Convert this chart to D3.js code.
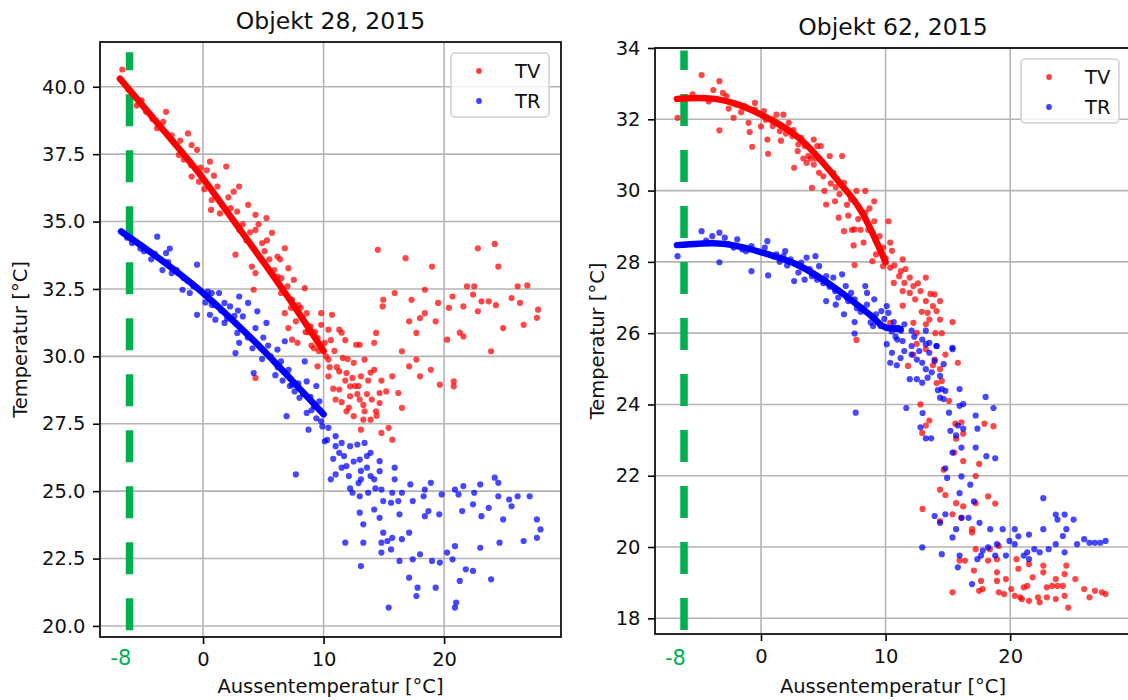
<!DOCTYPE html>
<html><head><meta charset="utf-8">
<script src="https://cdn.jsdelivr.net/npm/d3@7"></script>
<style>
html,body{margin:0;padding:0;background:#fff;}
svg{display:block;font-family:"DejaVu Sans",sans-serif;}
</style></head>
<body>
<svg id="chart" width="1128" height="700"></svg>
<script>
// ---------- DATA ----------
const titles = ["Objekt 28, 2015", "Objekt 62, 2015"];
const xLabel = "Aussentemperatur [°C]";
const yLabel = "Temperatur [°C]";
const seriesNames = ["TV", "TR"];
const xTicks = [0, 10, 20];
const yTicks28 = [20, 22.5, 25, 27.5, 30, 32.5, 35, 37.5, 40];
const yTicks62 = [18, 20, 22, 24, 26, 28, 30, 32, 34];
const guideLabel = "-8";
const guideX = [-6.1, -6.18];          // dashed green marker position (x, data units)
const guideY28 = [19.84, 41.28];
const guideY62 = [17.67, 33.93];

// Objekt 28 – TV (supply) points
const tv28 = [[-6.7,40.64],[-4.73,39.07],[-3.82,38.46],[-3.07,39.07],[-1.25,38.27],[-2.0,37.47],[-0.95,37.84],[-0.5,37.66],[0.57,37.22],[1.93,37.04],[-0.95,36.67],[-0.34,36.48],[0.72,35.8],[0.66,35.43],[2.54,36.11],[2.99,36.3],[2.83,35.37],[3.74,35.62],[4.35,35.25],[5.26,35.13],[4.35,34.69],[5.72,34.58],[6.78,34.01],[2.69,33.77],[4.05,33.33],[6.17,33.7],[7.08,33.27],[4.35,33.09],[6.17,32.96],[7.53,32.84],[8.44,32.53],[4.2,32.47],[6.47,32.35],[7.38,32.1],[6.78,31.6],[8.27,31.42],[7.08,31.05],[8.9,31.11],[9.8,31.6],[10.7,31.54],[11.3,30.99],[10.4,30.99],[9.8,31.17],[7.38,30.62],[9.5,30.68],[11.5,30.88],[13.0,30.43],[14.36,30.87],[14.5,33.95],[16.8,33.64],[19.0,33.33],[22.8,34.01],[24.2,34.17],[24.5,33.33],[15.9,32.35],[14.95,32.1],[18.4,32.47],[21.9,32.6],[22.5,32.6],[26.1,32.6],[26.9,32.63],[27.8,31.73],[27.7,31.43],[17.3,32.1],[19.5,31.98],[14.9,31.85],[18.4,31.6],[19.3,31.3],[20.4,31.8],[21.6,31.85],[22.8,31.67],[23.7,32.04],[24.3,31.9],[25.6,32.16],[26.3,31.98],[24.9,31.05],[26.6,31.17],[23.1,32.04],[22.4,32.29],[20.7,32.22],[18.0,31.42],[17.1,31.3],[17.7,30.87],[21.6,30.74],[20.25,30.62],[21.3,30.88],
[7.83,30.5],[12.7,30.43],[14.2,30.5],[16.5,30.19],[17.7,29.88],[17.1,29.63],[18.9,29.5],[19.65,28.95],[20.8,29.07],[20.8,28.89],[23.9,30.19],[4.35,29.2],[9.5,29.63],[10.4,29.26],[11.3,29.44],[11.9,29.38],[10.4,29.88],[11.6,29.94],[12.5,29.76],[13.4,29.88],[13.1,29.26],[12.2,28.89],[11.3,28.77],[12.2,28.52],[13.0,28.4],[14.0,28.4],[14.65,28.27],[13.4,27.96],[14.35,27.96],[11.9,27.96],[12.5,27.78],[13.3,27.65],[13.1,27.28],[13.9,27.65],[14.8,27.16],[15.4,27.35],[15.7,26.91],[16.2,28.64],[16.5,28.09],[15.7,29.26],[14.65,28.64],[18.0,29.26],
[8.7,30.9],[9.2,30.3],[10.1,30.5],[10.9,30.2],[11.8,30.6],[12.4,29.2],[13.7,29.1],[14.2,29.5],[12.9,28.9],[11.5,28.3],[13.6,28.6],[14.8,29.1],[15.2,28.7],[10.8,28.8],[12.0,29.9],
[-5.5,39.3],[-4.2,38.8],[-2.6,38.2],[-1.6,37.3],[-0.2,37.0],[1.2,36.3],[1.6,35.6],[3.3,34.9],[4.9,34.2],[5.5,33.6],[6.5,32.9],[7.9,31.9],[8.6,31.6],[9.3,30.9],[3.9,34.6],[5.1,33.9],[2.1,35.9],[0.3,36.9],
[-6.2,39.9],[-5.1,39.5],[-3.3,38.7],[-1.9,38.0],[-1.0,37.1],[0.1,36.2],[0.9,36.7],[1.4,35.3],[2.3,35.5],[3.0,34.7],[3.6,34.3],[4.6,34.9],[5.3,34.3],[5.9,33.2],[6.4,33.6],[7.0,32.6],[7.3,31.8],[7.7,31.3],[8.1,31.8],[8.5,30.9],[9.0,30.4],[9.6,30.2],[10.2,30.0],[10.6,30.6],[11.1,29.6],[11.8,29.1],[12.6,28.9],[13.3,28.2],[12.8,28.6],[13.9,29.4],[10.5,29.6],[11.0,28.4],[12.1,28.1],[14.4,27.8]];

// Objekt 28 – TR (return) points
const tr28 = [[-3.8,34.44],[-2.76,34.0],[-3.07,33.83],[-3.37,33.2],[-2.6,33.09],[-0.5,33.4],[-1.1,32.35],[-1.7,32.47],[-0.5,31.54],[0.72,32.35],[1.33,32.35],[3.0,32.22],[0.72,31.91],[1.78,31.98],[2.24,31.85],[0.57,31.54],[1.02,31.36],[1.78,31.24],[3.74,31.98],[4.5,31.67],[5.26,31.24],[3.3,31.48],[2.69,31.24],[4.35,31.05],[2.84,30.87],[6.78,30.56],
[2.69,30.12],[3.0,30.5],[4.2,29.38],[6.17,30.25],[6.47,29.81],[8.44,29.81],[7.38,28.95],[8.6,29.07],[8.0,28.46],[9.2,28.15],[8.6,27.9],[9.65,28.33],[6.93,27.78],[7.7,25.62],[8.75,27.28],[9.8,27.59],[10.1,26.85],[10.4,27.35],[11.0,27.04],[11.5,26.79],[11.0,26.67],[11.3,26.42],[12.2,26.67],[12.8,26.73],[13.4,26.79],[13.9,26.42],[11.9,25.93],[11.5,25.87],[13.0,26.17],[13.6,25.87],[14.65,26.11],[13.1,25.75],[13.9,25.56],[13.1,25.44],[14.2,25.44],[14.65,25.74],[10.6,25.44],[11.0,25.62],[12.1,25.56],[15.9,25.87],[15.9,25.44],[14.8,25.06],[15.7,24.94],[12.4,24.94],[13.0,24.81],[13.7,24.94],[14.95,24.63],[15.6,24.57],[16.2,24.63],[16.5,24.94],[17.2,25.25],[17.4,24.63],[18.3,24.81],[18.4,25.06],[18.9,25.31],[19.8,24.88],[20.9,25.06],[21.2,24.88],[21.6,25.19],[22.5,24.94],[23.0,25.25],[24.2,25.5],[24.5,25.31],[24.5,24.81],[25.4,24.69],[26.1,24.81],[27.1,24.81],[25.6,24.44],[23.7,24.38],[23.1,24.07],[22.4,24.51],[21.5,24.26],[18.7,24.26],[19.6,24.14],[18.4,24.07],[16.3,24.14],[14.2,24.32],[14.65,24.01],[13.0,24.2],[13.3,23.77],[17.1,23.46],[14.95,23.46],[15.3,23.15],[15.7,23.27],[14.8,23.09],[16.5,23.22],[14.8,22.72],[15.6,22.84],[11.8,23.09],[13.3,23.09],[16.3,22.41],[17.4,22.47],[18.0,22.66],[19.0,22.41],[19.65,22.35],[20.25,22.72],[20.7,22.47],[20.9,22.96],[23.0,22.9],[24.6,23.09],[26.6,23.15],[27.7,23.27],[28.0,23.58],[27.7,23.95],[24.9,23.95],[13.1,22.22],[17.1,21.79],[17.8,21.42],[17.7,21.11],[19.3,21.42],[21.8,22.1],[22.4,22.04],[21.3,21.67],[23.9,21.73],[21.0,20.87],[20.9,20.68],[15.4,20.68],
[-5.9,34.2],[-4.9,33.9],[-4.3,33.6],[-2.2,33.2],[-1.3,32.8],[0.2,32.0],[1.5,31.7],[2.6,31.5],[3.5,30.9],[4.8,30.3],[5.6,30.0],[6.2,29.6],[7.1,29.5],[7.9,29.0],[8.9,28.5],[9.4,27.7],[5.0,30.7],[6.0,29.3],[7.6,28.7],[9.9,27.4],[10.3,26.9],
[-6.3,34.4],[-5.2,34.0],[-4.0,33.8],[-2.9,33.5],[-1.6,32.9],[-0.8,32.6],[0.4,32.4],[1.0,31.9],[2.0,31.4],[2.9,31.7],[3.7,30.7],[4.1,30.3],[4.9,29.9],[5.4,30.4],[6.6,29.1],[7.2,28.9],[8.3,28.6],[9.0,28.0],[9.4,28.9],[10.8,26.2],[11.7,26.3],[12.5,26.1],[12.9,25.3],[13.6,26.3],[14.3,25.1],[12.2,25.1]];

// Objekt 62 – TV points
const tv62 = [[-4.77,33.24],[-3.34,33.07],[-3.83,32.82],[-3.06,32.74],[-2.77,32.65],[-6.7,32.04],[-3.34,31.69],[-2.2,32.04],[-2.06,32.42],[-1.34,32.37],[-0.49,32.46],[-0.49,32.27],[-0.91,31.64],[-0.71,31.23],[0.23,32.23],[0.37,31.99],[0.51,31.43],[0.57,31.03],[1.23,32.13],[1.8,32.13],[0.94,31.81],[1.51,31.67],[2.23,31.9],[2.51,31.53],[2.66,30.64],[2.94,31.11],[3.23,31.48],[3.51,31.25],[3.8,30.97],[3.66,30.78],[4.23,31.43],[4.51,31.25],[4.8,31.25],[4.23,30.73],[4.66,30.5],[4.09,30.08],[5.09,29.99],[5.23,29.61],[5.51,30.97],[6.51,30.97],[5.8,30.5],[6.66,30.22],[5.94,29.7],[6.23,29.24],[6.66,28.86],[7.23,29.75],[7.66,29.99],[8.37,29.99],[9.09,29.7],[8.37,29.38],[7.51,28.91],[9.09,29.14],[8.94,28.82],[8.23,28.54],[7.43,28.46],[9.51,28.72],[10.23,29.14],[10.37,28.54],[10.51,28.31],[9.23,28.21],[8.94,28.02],[9.8,27.88],[7.51,27.91],[10.37,27.84],[11.37,28.07],[11.23,27.74],[11.09,27.6],[11.51,27.41],[11.94,27.56],[12.23,27.32],[11.37,27.18],[10.66,27.41],[12.37,26.95],[11.37,26.77],[11.94,27.13],[12.8,27.18],[13.23,27.56],[13.94,27.09],[14.37,26.9],[13.23,26.9],[13.8,26.76],[13.37,26.57],[14.09,26.62],[13.51,26.38],[13.23,26.25],[14.37,26.38],[14.51,26.0],[15.37,26.31],[12.23,26.29],[12.51,26.01],[10.37,26.29],
[7.66,25.81],[11.8,25.08],[12.23,25.4],[13.23,25.55],[13.94,25.26],[14.37,24.99],[14.8,25.4],[14.51,24.66],[15.8,25.17],[15.09,24.1],[12.8,24.0],[13.23,23.41],[13.51,23.55],[12.94,23.2],[15.6,23.46],[15.66,23.04],[16.09,23.5],[16.23,23.18],[17.94,23.46],[18.66,23.39],[17.51,22.33],[17.23,21.99],[15.51,22.65],[16.23,22.41],[14.66,22.17],[14.37,21.61],[14.8,21.46],[15.66,21.23],[16.23,21.14],[17.23,21.23],[18.23,21.42],[18.8,21.22],[12.97,21.07],[14.37,20.73],[15.37,20.92],[16.09,20.82],[16.94,20.5],[16.94,20.41],[17.23,19.94],[18.37,19.94],[19.09,20.03],[15.94,19.62],[16.37,19.62],[18.23,19.62],[18.94,19.66],[20.51,19.66],[17.09,19.34],[18.94,19.29],[19.66,19.1],[20.66,19.39],[21.51,19.52],[22.66,19.48],[22.66,19.29],[23.66,19.1],[24.37,19.24],[24.51,19.48],[25.23,19.1],[21.8,19.15],[17.66,19.05],[17.8,18.82],[17.51,18.77],[15.37,18.73],[18.94,19.05],[19.09,18.73],[19.51,18.68],[20.09,18.82],[20.37,18.63],[20.8,18.59],[21.09,18.87],[21.37,18.91],[20.94,18.54],[21.51,18.49],[22.23,18.59],[22.37,18.45],[22.94,18.87],[23.37,18.91],[23.8,18.91],[24.23,18.91],[22.94,18.59],[23.66,18.54],[24.37,18.63],[24.66,18.3],[25.94,18.82],[26.37,18.59],[26.8,18.77],[27.37,18.73],[27.66,18.68],
[-5.5,32.7],[-4.2,32.5],[-1.6,32.2],[0.9,32.0],[2.0,31.6],[3.0,31.3],[4.0,30.9],[5.0,30.4],[6.0,30.1],[6.9,29.6],[7.8,29.2],[8.6,28.9],[9.5,28.4],[10.0,28.1],
[-2.6,32.3],[-1.0,31.9],[0.0,31.8],[1.6,31.4],[2.6,31.7],[3.4,30.9],[4.4,30.9],[5.6,30.2],[6.3,29.9],[7.0,29.3],[7.3,28.9],[8.0,28.9],[8.7,29.5],[9.2,28.6],[9.8,28.4],[10.7,27.9],[11.6,27.8],[12.6,27.4],[13.6,27.1],[12.9,26.6],[14.0,26.0],[12.5,25.7],[13.8,25.1],[14.1,24.6]];

// Objekt 62 – TR points
const tr62 = [[-6.7,28.16],[-4.77,28.86],[-3.34,28.82],[-3.34,27.99],[-3.91,28.72],[-2.91,28.68],[-2.2,28.4],[-1.91,28.63],[-0.77,28.44],[-0.77,27.74],[0.51,28.58],[0.57,27.62],[0.09,28.26],[1.23,28.21],[1.8,28.16],[1.94,28.3],[2.37,28.07],[2.66,27.46],[3.23,27.98],[3.66,28.12],[4.37,28.16],[4.09,27.6],[4.66,27.88],[5.23,27.6],[5.8,27.56],[6.51,27.65],[5.23,26.9],[5.94,27.18],[6.8,27.32],[7.23,27.13],[6.66,26.53],[7.51,26.95],[8.37,27.32],[8.51,27.13],[9.09,26.95],[8.09,26.71],[9.23,26.53],[9.66,26.62],[10.09,26.76],[10.23,26.57],[7.51,26.31],[7.51,25.99],[10.66,26.31],[11.23,26.07],[11.51,26.25],[12.09,26.07],[13.23,26.07],[10.94,25.82],[12.94,25.82],[13.51,25.73],[14.09,25.64],[15.37,25.59],
[10.09,25.69],[10.51,25.45],[10.37,25.17],[11.37,25.78],[12.09,25.64],[13.23,25.69],[14.09,25.64],[15.37,25.55],[12.09,25.4],[12.51,25.26],[12.94,25.17],[13.51,25.45],[13.94,25.22],[14.66,25.13],[13.23,24.99],[11.94,24.71],[12.51,24.71],[13.37,24.75],[14.37,24.8],[12.94,24.61],[14.51,24.43],[14.8,24.38],[14.37,24.19],[14.66,24.15],[15.94,24.43],[15.94,23.96],[16.23,24.01],[15.09,23.77],[18.03,24.21],[18.66,23.9],[11.66,23.9],[12.97,23.76],[7.6,23.77],[12.8,23.36],[13.23,23.05],[13.66,23.05],[15.2,23.26],[15.66,23.13],[15.8,23.41],[16.23,23.32],[17.37,23.32],[17.23,23.69],[16.09,22.79],[15.37,22.65],[17.23,22.79],[18.09,22.55],[18.8,22.49],[14.8,22.21],[14.94,21.94],[16.09,21.98],[16.8,21.75],[15.94,21.51],[17.09,21.28],[13.94,20.87],[14.8,20.92],[14.37,20.68],[16.09,20.82],[16.66,20.82],[15.66,20.5],[15.37,20.27],[17.54,20.68],[18.4,20.5],[19.4,20.5],[20.37,20.5],[20.66,20.3],[21.51,20.35],[22.66,20.5],[22.66,21.37],[23.66,20.91],[23.8,20.77],[24.37,20.91],[24.51,20.5],[25.09,20.77],[24.23,20.31],[23.66,20.08],[23.09,19.94],[21.94,19.94],[21.37,19.85],[20.37,20.08],[19.94,20.17],[18.94,20.08],[18.23,19.99],[17.8,19.9],[17.66,19.76],[18.8,19.76],[19.66,19.76],[21.09,19.76],[21.51,19.66],[22.37,19.85],[24.37,19.85],[25.37,20.08],[25.94,20.22],[26.37,20.12],[26.8,20.12],[27.23,20.12],[27.66,20.17],[14.51,19.8],[15.94,19.76],[12.94,19.99],[15.8,19.43],[16.94,18.96],[17.37,19.66],
[-5.6,28.5],[-4.4,28.6],[-1.2,28.3],[1.0,28.15],[2.8,27.95],[3.9,27.8],[5.0,27.4],[6.2,27.0],[7.0,26.9],[8.0,26.6],[8.8,26.3],[9.6,26.2],[10.5,26.05],[11.0,26.15],
[-2.6,28.5],[-1.5,28.35],[0.3,28.4],[1.5,28.0],[2.1,27.9],[3.0,27.7],[3.5,27.5],[4.5,27.5],[5.5,27.3],[6.0,26.8],[6.9,27.0],[7.7,26.7],[8.5,26.8],[9.0,26.2],[9.9,26.4],[10.8,25.9],[11.5,25.5],[12.3,25.9],[11.2,25.3],[12.7,25.5],[13.7,24.9],[14.2,24.4],[10.9,25.1]];

// fitted (dense) curves
const fitTv28 = [[-6.9,40.3],[-3.5,38.5],[0,36.6],[2.5,35.05],[5,33.5],[7.5,31.9],[10,30.2]];
const fitTr28 = [[-6.8,34.63],[-3.4,33.55],[0,32.35],[2.2,31.45],[4.4,30.5],[7.4,29.1],[10,27.85]];
const fitTv62 = [[-6.75,32.57],[-5,32.6],[-3.9,32.58],[-2,32.43],[0,32.13],[3.2,31.43],[6.1,30.31],[8.1,29.39],[10,27.99]];
const fitTr62 = [[-6.75,28.47],[-5,28.51],[-3.9,28.52],[-2,28.45],[0,28.27],[3.2,27.87],[6.1,27.23],[8.9,26.47],[10,26.16],[11.2,26.12]];

const colors = {TV: "#ff0000", TR: "#0000ff", guide: "#00b050"};

// ---------- DRAW ----------
const svg = d3.select("#chart");
svg.append("rect").attr("width",1128).attr("height",700).attr("fill","#fff");

const panels = [
  {title: titles[0], x0:100, x1:561, y0:42, y1:637, xDom:[-8.55,29.7], yDom:[19.59,41.66],
   yTicks: yTicks28, fmt: d3.format(".1f"), tv: tv28, tr: tr28, fitTv: fitTv28, fitTr: fitTr28,
   gx: guideX[0], gy: guideY28, titleY: 29, ylabX: 20, legend:{x:451, y:53}},
  {title: titles[1], x0:655, x1:1131, y0:48, y1:634, xDom:[-8.51,29.7], yDom:[17.56,34.0],
   yTicks: yTicks62, fmt: d3.format("d"), tv: tv62, tr: tr62, fitTv: fitTv62, fitTr: fitTr62,
   gx: guideX[1], gy: guideY62, titleY: 35, ylabX: 597, legend:{x:1021, y:59}}
];

panels.forEach((p, i) => {
  const x = d3.scaleLinear().domain(p.xDom).range([p.x0, p.x1]);
  const y = d3.scaleLinear().domain(p.yDom).range([p.y1, p.y0]);
  const g = svg.append("g");
  const clipId = "clip" + i;
  svg.append("clipPath").attr("id", clipId).append("rect")
    .attr("x", p.x0).attr("y", p.y0).attr("width", p.x1 - p.x0).attr("height", p.y1 - p.y0);

  // grid
  const grid = g.append("g").attr("stroke", "#b4b4b4").attr("stroke-width", 1.6);
  xTicks.forEach(t => grid.append("line").attr("x1", x(t)).attr("x2", x(t)).attr("y1", p.y0).attr("y2", p.y1));
  p.yTicks.forEach(t => grid.append("line").attr("y1", y(t)).attr("y2", y(t)).attr("x1", p.x0).attr("x2", p.x1));

  const plot = g.append("g").attr("clip-path", `url(#${clipId})`);

  // green guide line (dashed, drawn bottom to top)
  plot.append("line")
    .attr("x1", x(p.gx)).attr("x2", x(p.gx))
    .attr("y1", y(p.gy[0])).attr("y2", y(p.gy[1]))
    .attr("stroke", colors.guide).attr("stroke-width", 7.5)
    .attr("stroke-dasharray", "32,24");

  const line = d3.line().x(d => x(d[0])).y(d => y(d[1])).curve(d3.curveMonotoneX);

  // scatter points TV
  plot.append("g").selectAll("circle").data(p.tv).join("circle")
    .attr("cx", d => x(d[0])).attr("cy", d => y(d[1])).attr("r", 3.1)
    .attr("fill", colors.TV).attr("fill-opacity", 0.72);
  plot.append("path").datum(p.fitTv).attr("d", line)
    .attr("fill", "none").attr("stroke", colors.TV).attr("stroke-width", 6.5)
    .attr("stroke-linecap", "round").attr("stroke-linejoin", "round");

  // scatter points TR
  plot.append("g").selectAll("circle").data(p.tr).join("circle")
    .attr("cx", d => x(d[0])).attr("cy", d => y(d[1])).attr("r", 3.1)
    .attr("fill", colors.TR).attr("fill-opacity", 0.72);
  plot.append("path").datum(p.fitTr).attr("d", line)
    .attr("fill", "none").attr("stroke", colors.TR).attr("stroke-width", 6.5)
    .attr("stroke-linecap", "round").attr("stroke-linejoin", "round");

  // axes
  const yAxis = d3.axisLeft(y).tickValues(p.yTicks).tickFormat(p.fmt).tickSize(7).tickPadding(7.5);
  const xAxis = d3.axisBottom(x).tickValues(xTicks).tickFormat(d3.format("d")).tickSize(7).tickPadding(8);
  const ya = g.append("g").attr("transform", `translate(${p.x0},0)`).call(yAxis);
  const xa = g.append("g").attr("transform", `translate(0,${p.y1})`).call(xAxis);
  [ya, xa].forEach(a => {
    a.select(".domain").remove();
    a.selectAll("line").attr("stroke", "#000").attr("stroke-width", 1.6);
    a.selectAll("text").attr("fill", "#111").style("font-size", "19.5px").style("font-family", "DejaVu Sans");
  });

  // frame
  g.append("rect").attr("x", p.x0).attr("y", p.y0).attr("width", p.x1 - p.x0).attr("height", p.y1 - p.y0)
    .attr("fill", "none").attr("stroke", "#111").attr("stroke-width", 1.8);

  // green "-8" label
  g.append("text").attr("x", x(p.gx) - 8.5).attr("y", 665).attr("text-anchor", "middle")
    .attr("fill", colors.guide).style("font-size", "21px").text(guideLabel);

  // title
  g.append("text").attr("x", (p.x0 + p.x1) / 2).attr("y", p.titleY).attr("text-anchor", "middle")
    .attr("fill", "#111").style("font-size", "23.5px").text(p.title);

  // x label
  g.append("text").attr("x", (p.x0 + p.x1) / 2).attr("y", 693).attr("text-anchor", "middle")
    .attr("fill", "#111").style("font-size", "19.5px").text(xLabel);

  // y label
  g.append("text").attr("transform", `translate(${p.ylabX},${(p.y0 + p.y1) / 2}) rotate(-90)`)
    .attr("text-anchor", "middle").attr("dy", "0.35em")
    .attr("fill", "#111").style("font-size", "19.5px").text(yLabel);

  // legend
  const lg = g.append("g").attr("transform", `translate(${p.legend.x},${p.legend.y})`);
  lg.append("rect").attr("width", 98).attr("height", 64).attr("rx", 4)
    .attr("fill", "#fff").attr("fill-opacity", 0.8).attr("stroke", "#d0d0d0").attr("stroke-width", 1.5);
  seriesNames.forEach((n, k) => {
    lg.append("circle").attr("cx", 28).attr("cy", 18 + k * 30).attr("r", 2.9)
      .attr("fill", colors[n]).attr("fill-opacity", 0.75);
    lg.append("text").attr("x", 64).attr("y", 18 + k * 30).attr("dy", "0.35em")
      .attr("fill", "#111").style("font-size", "19.5px").text(n);
  });
});
</script>
</body></html>
